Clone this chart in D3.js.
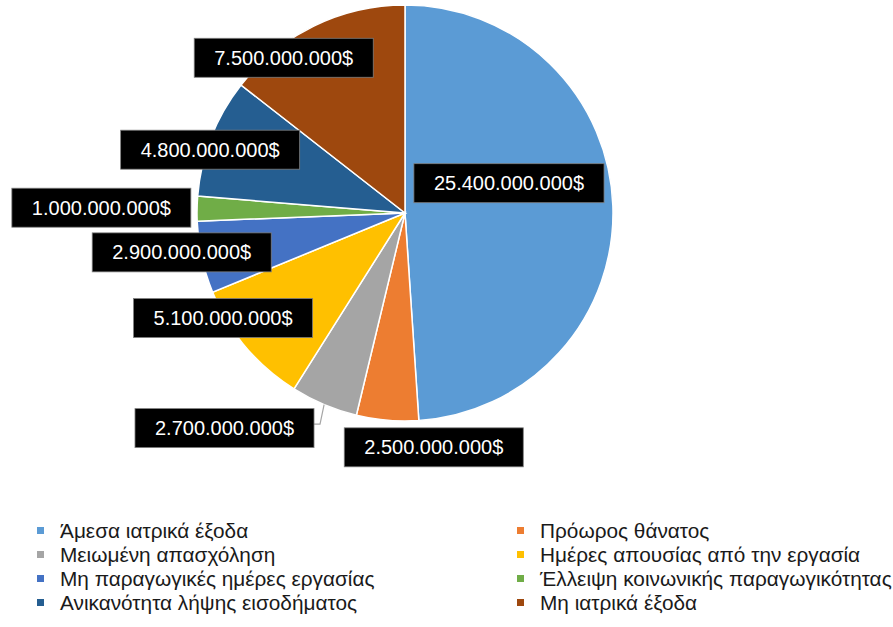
<!DOCTYPE html>
<html>
<head>
<meta charset="utf-8">
<script src="https://cdn.jsdelivr.net/npm/d3@7"></script>
<style>
  body { margin: 0; background: #fff; }
  svg { font-family: "Liberation Sans", Arial, sans-serif; }
</style>
</head>
<body>
<svg id="chart"></svg>
<script>
const width = 893;
const height = 627;

// data
const categories = [
  'Άμεσα ιατρικά έξοδα',
  'Πρόωρος θάνατος',
  'Μειωμένη απασχόληση',
  'Ημέρες απουσίας από την εργασία',
  'Μη παραγωγικές ημέρες εργασίας',
  'Έλλειψη κοινωνικής παραγωγικότητας',
  'Ανικανότητα λήψης εισοδήματος',
  'Μη ιατρικά έξοδα'
];
const values = [25400000000, 2500000000, 2700000000, 5100000000, 2900000000, 1000000000, 4800000000, 7500000000];
const colors = ['#5B9BD5', '#ED7D31', '#A5A5A5', '#FFC000', '#4472C4', '#70AD47', '#255E91', '#9E480E'];

// label placement (angle in degrees clockwise from top, radius as share of pie radius)
const labelAngle = [74, 173, 220, 240, 260, 271, 288, 322];
const labelRadius = [0.52, 1.135, 1.35, 1.01, 1.09, 1.46, 0.985, 0.947];

const cx = 405, cy = 213, r = 208;

const svg = d3.select('#chart')
  .attr('width', width)
  .attr('height', height);

const data = categories.map((c, i) => ({ name: c, value: values[i], color: colors[i] }));

const pie = d3.pie().value(d => d.value).sort(null);
const arc = d3.arc().innerRadius(0).outerRadius(r);
const arcs = pie(data);

const g = svg.append('g').attr('transform', `translate(${cx},${cy})`);

g.selectAll('path')
  .data(arcs)
  .enter()
  .append('path')
  .attr('d', arc)
  .attr('fill', d => d.data.color)
  .attr('stroke', '#fff')
  .attr('stroke-width', 1.5);

const fmt = v => d3.format(',')(v).replace(/,/g, '.') + '$';

const labels = g.selectAll('g.lbl')
  .data(arcs)
  .enter()
  .append('g')
  .attr('class', 'lbl')
  .attr('transform', (d, i) => {
    const p = d3.pointRadial(labelAngle[i] * Math.PI / 180, labelRadius[i] * r);
    return `translate(${p[0]},${p[1]})`;
  });

labels.append('rect').attr('class', 'box');
labels.append('text')
  .attr('text-anchor', 'middle')
  .attr('dy', '0.35em')
  .attr('fill', '#fff')
  .style('font-size', '20px')
  .text(d => fmt(d.data.value));

labels.each(function(d, i) {
  const t = d3.select(this).select('text').node();
  const w = t.getComputedTextLength() + 40;
  const h = 39;
  d3.select(this).select('rect')
    .attr('x', -w / 2)
    .attr('y', -h / 2)
    .attr('width', w)
    .attr('height', h)
    .attr('fill', '#000')
    .attr('stroke', '#7F7F7F')
    .attr('stroke-width', 0.8);

  // leader line for the label that sits away from its slice
  if (labelRadius[i] > 1.3 && i === 2) {
    const p = d3.pointRadial(labelAngle[i] * Math.PI / 180, labelRadius[i] * r);
    const e = d3.pointRadial((d.startAngle + d.endAngle) / 2, r);
    const bx = p[0] + w / 2, by = p[1] - 4;
    g.insert('polyline', 'g.lbl')
      .attr('points', `${bx},${by} ${bx + 6},${by} ${e[0]},${e[1]}`)
      .attr('fill', 'none')
      .attr('stroke', '#A6A6A6')
      .attr('stroke-width', 1.2);
  }
});

// legend
const legend = svg.append('g');
const item = legend.selectAll('g')
  .data(data)
  .enter()
  .append('g')
  .attr('transform', (d, i) => `translate(${i % 2 === 0 ? 37 : 517},${531 + Math.floor(i / 2) * 24})`);

item.append('rect')
  .attr('x', 0)
  .attr('y', -4)
  .attr('width', 7)
  .attr('height', 7)
  .attr('fill', d => d.color);

item.append('text')
  .attr('x', 23)
  .attr('dy', '0.35em')
  .attr('fill', '#1A1A1A')
  .style('font-size', '20.8px')
  .text(d => d.name);
</script>
</body>
</html>
